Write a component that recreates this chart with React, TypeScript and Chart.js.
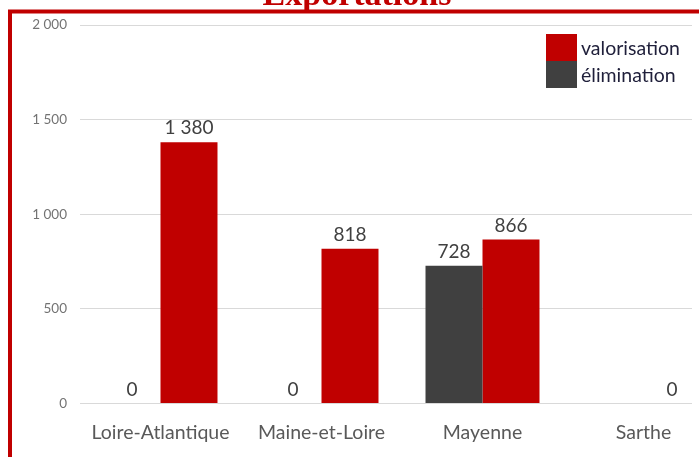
import { useEffect, useRef } from "react";
import { Chart, registerables } from "chart.js";

Chart.register(...registerables);

const categories = ["Loire-Atlantique", "Maine-et-Loire", "Mayenne", "Sarthe"];
const elimination: (number | null)[] = [0, 0, 728, null];
const valorisation: (number | null)[] = [1380, 818, 866, 0];
const yTickValues = [0, 500, 1000, 1500, 2000];
const titleText = "Exportations";
const seriesLabels = ["élimination", "valorisation"];

const RED = "#c00000";
const GRAY = "#404040";
const FONT = "Lato, 'Open Sans', sans-serif";

function fmt(v: number): string {
  return String(v).replace(/\B(?=(\d{3})+(?!\d))/g, "\u00a0");
}

const decorPlugin = {
  id: "decor",
  beforeDraw(chart: any) {
    const ctx = chart.ctx;
    ctx.save();
    ctx.fillStyle = "#ffffff";
    ctx.fillRect(0, 0, chart.width, chart.height);
    ctx.strokeStyle = RED;
    ctx.lineWidth = 4;
    ctx.strokeRect(10, 11.5, chart.width + 50, chart.height + 50);
    ctx.restore();
  },
  afterDraw(chart: any) {
    const ctx = chart.ctx;
    ctx.save();
    // title (partly cut off at the top)
    ctx.fillStyle = RED;
    ctx.font = "bold 34px 'Liberation Serif', 'Times New Roman', serif";
    ctx.textAlign = "center";
    ctx.textBaseline = "alphabetic";
    ctx.fillText(titleText, 357, 4.5);

    // legend in the plot area, reversed order
    const items = chart.data.datasets.map((d: any) => ({ label: d.label, color: d.backgroundColor })).reverse();
    const bx = 546;
    let by = 34;
    const bw = 31;
    const bh = 27;
    ctx.font = `19.5px ${FONT}`;
    ctx.textAlign = "left";
    ctx.textBaseline = "middle";
    items.forEach((it: any) => {
      ctx.fillStyle = it.color;
      ctx.fillRect(bx, by, bw, bh);
      ctx.fillStyle = "#1f1f3a";
      ctx.fillText(it.label, bx + bw + 4, by + bh / 2 + 1);
      by += bh;
    });
    ctx.restore();
  },
  afterDatasetsDraw(chart: any) {
    const ctx = chart.ctx;
    ctx.save();
    ctx.font = `19px ${FONT}`;
    ctx.fillStyle = "#404040";
    ctx.textAlign = "center";
    ctx.textBaseline = "alphabetic";
    chart.data.datasets.forEach((ds: any, di: number) => {
      const meta = chart.getDatasetMeta(di);
      meta.data.forEach((bar: any, i: number) => {
        const v = ds.data[i];
        if (v === null || v === undefined) return;
        ctx.fillText(fmt(v), bar.x, bar.y - 8);
      });
    });
    ctx.restore();
  },
};

export default function App() {
  const ref = useRef<HTMLCanvasElement | null>(null);

  useEffect(() => {
    document.body.style.margin = "0";
    document.body.style.overflow = "hidden";
    const canvas = ref.current;
    if (!canvas) return;
    const chart = new Chart(canvas, {
      type: "bar",
      data: {
        labels: categories,
        datasets: [
          {
            label: seriesLabels[0],
            data: elimination,
            backgroundColor: GRAY,
            categoryPercentage: 0.708,
            barPercentage: 1,
          },
          {
            label: seriesLabels[1],
            data: valorisation,
            backgroundColor: RED,
            categoryPercentage: 0.708,
            barPercentage: 1,
          },
        ],
      },
      options: {
        responsive: false,
        animation: false,
        devicePixelRatio: 1,
        layout: { padding: { left: 0, right: 7, top: 25, bottom: 0 } },
        plugins: {
          legend: { display: false },
          title: { display: false },
          tooltip: { enabled: false },
        },
        scales: {
          x: {
            type: "category",
            offset: true,
            grid: { display: false, drawTicks: false },
            border: { display: false },
            ticks: {
              color: "#595959",
              font: { family: FONT, size: 19.5 },
              padding: 18,
              maxRotation: 0,
              autoSkip: false,
            },
            afterBuildTicks: (scale: any) => {
              scale._valueRange = 612 / 161;
            },
            afterFit: (scale: any) => {
              scale.height = 53.5;
            },
          },
          y: {
            min: 0,
            max: 2000,
            afterBuildTicks: (scale: any) => {
              scale.ticks = yTickValues.map((v) => ({ value: v }));
            },
            grid: { color: "#d9d9d9", drawTicks: false, lineWidth: 1 },
            border: { display: false },
            ticks: {
              color: "#737373",
              font: { family: FONT, size: 13.5 },
              padding: 13,
              callback: (v: any) => fmt(Number(v)),
            },
            afterFit: (scale: any) => {
              scale.width = 80;
            },
          },
        },
      },
      plugins: [decorPlugin],
    });
    return () => chart.destroy();
  }, []);

  return <canvas ref={ref} width={699} height={457} style={{ display: "block" }} />;
}
